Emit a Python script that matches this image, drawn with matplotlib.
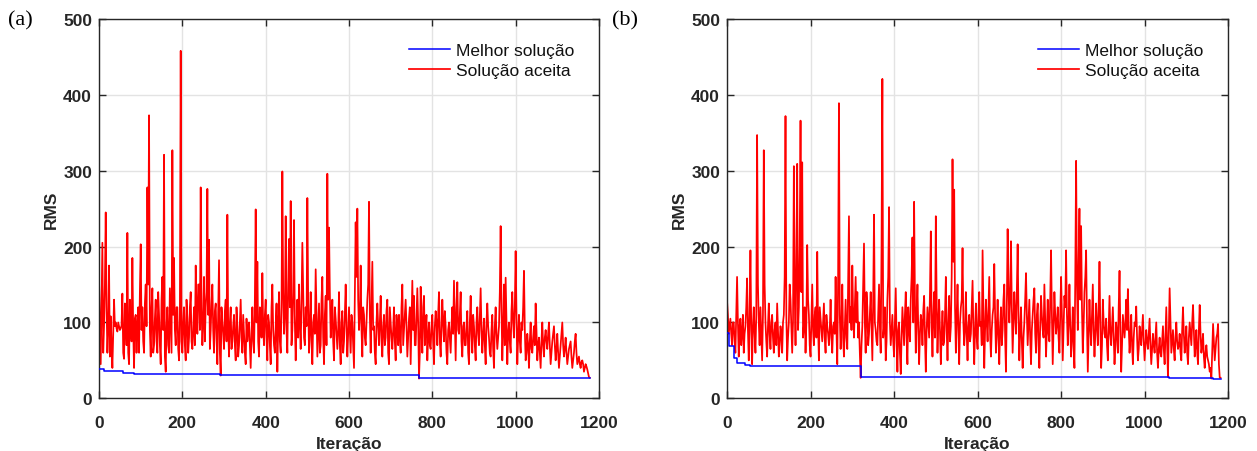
import numpy as np
import matplotlib
matplotlib.use('Agg')
from matplotlib import pyplot as plt

# RMS da solução aceita nas iterações 0, 4, 8, ...
a_aceita = [
    155, 45, 205, 95, 245, 60, 175, 108, 40, 130,
    100, 88, 95, 92, 138, 52, 110, 218, 45, 100,
    185, 40, 110, 95, 60, 203, 120, 60, 150, 278,
    373, 55, 145, 70, 130, 60, 110, 45, 160, 321,
    35, 120, 60, 100, 327, 185, 70, 120, 50, 458,
    60, 120, 50, 105, 80, 140, 65, 120, 175, 85,
    150, 278, 70, 160, 120, 276, 209, 90, 150, 60,
    125, 45, 182, 30, 100, 65, 130, 242, 55, 120,
    75, 110, 50, 95, 70, 130, 60, 85, 45, 75,
    100, 40, 120, 60, 249, 180, 55, 110, 165, 70,
    130, 50, 100, 45, 150, 70, 95, 35, 140, 60,
    299, 85, 240, 60, 210, 260, 90, 235, 50, 130,
    150, 65, 205, 80, 120, 264, 60, 140, 45, 110,
    170, 55, 125, 70, 160, 45, 135, 296, 225, 80,
    130, 50, 105, 65, 140, 45, 115, 75, 150, 55,
    120, 60, 100, 40, 232, 250, 90, 175, 55, 110,
    70, 130, 259, 60, 180, 95, 45, 125, 70, 135,
    55, 110, 80, 130, 45, 100, 65, 120, 50, 95,
    110, 60, 150, 90, 130, 55, 105, 45, 155, 135,
    70, 145, 26, 147, 60, 135, 95, 50, 100, 65,
    110, 45, 115, 70, 140, 55, 130, 75, 95, 45,
    100, 60, 120, 155, 50, 153, 85, 140, 55, 100,
    70, 115, 45, 135, 60, 95, 50, 120, 70, 145,
    60, 105, 45, 125, 80, 55, 110, 40, 120, 65,
    95, 227, 50, 150, 159, 45, 100, 60, 140, 80,
    194, 45, 110, 60, 90, 168, 50, 85, 40, 100,
    60, 95, 125, 50, 80, 40, 100, 55, 90, 65,
    100, 45, 75, 95, 50, 85, 40, 70, 100, 55,
    80, 45, 65, 75, 40, 60, 85, 45, 55, 40,
    50, 35, 45, 38, 28,
]
# RMS da solução aceita nas iterações 2, 6, 10, ...
a_aceita_meio = [
    100, 130, 60, 150, 120, 95, 55, 70, 85, 95,
    92, 100, 90, 96, 60, 125, 70, 60, 130, 75,
    90, 105, 60, 120, 140, 90, 75, 125, 95, 150,
    90, 120, 60, 105, 75, 140, 70, 130, 90, 55,
    95, 70, 145, 60, 110, 90, 120, 65, 105, 75,
    100, 70, 130, 60, 120, 75, 90, 70, 110, 150,
    90, 120, 100, 75, 140, 110, 65, 125, 90, 115,
    80, 110, 60, 120, 85, 115, 75, 90, 100, 65,
    95, 70, 120, 55, 100, 80, 110, 60, 105, 90,
    70, 85, 75, 130, 100, 75, 120, 80, 90, 110,
    80, 110, 70, 120, 90, 60, 125, 95, 75, 120,
    140, 110, 90, 150, 120, 70, 140, 100, 95, 80,
    100, 125, 140, 70, 95, 130, 90, 75, 100, 85,
    110, 90, 60, 130, 80, 110, 70, 130, 140, 100,
    75, 120, 85, 90, 70, 100, 60, 110, 95, 85,
    90, 110, 70, 140, 160, 130, 110, 90, 120, 80,
    100, 150, 110, 120, 90, 60, 100, 95, 100, 75,
    95, 70, 115, 60, 120, 80, 90, 75, 110, 70,
    80, 120, 70, 110, 95, 80, 120, 100, 90, 70,
    110, 100, 60, 90, 120, 70, 110, 80, 70, 95,
    75, 95, 100, 110, 75, 95, 100, 115, 60, 90,
    80, 95, 85, 100, 120, 90, 110, 75, 95, 70,
    95, 60, 100, 85, 110, 70, 100, 85, 110, 90,
    85, 70, 100, 95, 60, 90, 65, 95, 85, 80,
    140, 120, 90, 70, 100, 85, 75, 115, 100, 120,
    110, 80, 75, 100, 120, 90, 60, 70, 75, 65,
    80, 70, 90, 70, 60, 75, 70, 80, 75, 85,
    70, 60, 85, 70, 65, 60, 55, 85, 70, 65,
    60, 55, 70, 55, 50, 75, 60, 50, 45, 48,
    45, 40, 42, 33, 27,
]
b_aceita = [
    128, 85, 105, 70, 100, 60, 160, 55, 105, 85,
    60, 95, 158, 50, 195, 45, 120, 60, 347, 100,
    120, 50, 327, 100, 55, 125, 65, 110, 60, 100,
    125, 55, 95, 60, 110, 372, 50, 100, 130, 60,
    306, 70, 309, 120, 366, 311, 95, 60, 202, 110,
    55, 150, 70, 120, 193, 50, 105, 75, 125, 60,
    95, 70, 130, 60, 100, 160, 45, 389, 65, 150,
    55, 130, 65, 240, 120, 175, 80, 160, 140, 100,
    27, 95, 204, 60, 120, 85, 140, 50, 242, 90,
    70, 150, 60, 421, 95, 50, 130, 252, 70, 110,
    55, 145, 35, 100, 32, 120, 70, 140, 45, 95,
    130, 212, 259, 60, 150, 45, 110, 70, 135, 35,
    120, 80, 220, 55, 140, 240, 60, 130, 45, 115,
    75, 160, 50, 135, 95, 315, 275, 60, 150, 45,
    120, 198, 70, 140, 50, 110, 85, 155, 45, 125,
    65, 140, 100, 195, 40, 130, 75, 160, 55, 110,
    177, 60, 130, 45, 120, 90, 150, 35, 223, 100,
    207, 60, 140, 85, 203, 50, 120, 40, 100, 165,
    70, 130, 45, 110, 145, 60, 125, 40, 135, 90,
    150, 55, 130, 75, 195, 45, 140, 85, 120, 60,
    160, 50, 135, 195, 70, 150, 55, 120, 40, 313,
    90, 250, 227, 60, 140, 195, 35, 130, 70, 150,
    55, 125, 70, 180, 40, 130, 85, 105, 50, 135,
    70, 120, 45, 100, 60, 168, 35, 110, 80, 130,
    144, 60, 110, 45, 100, 121, 50, 95, 70, 110,
    50, 90, 65, 105, 45, 85, 60, 100, 40, 80,
    55, 95, 45, 120, 28, 145, 60, 90, 50, 100,
    65, 85, 50, 120, 60, 95, 45, 100, 70, 123,
    55, 90, 45, 123, 60, 85, 40, 70, 50, 35,
    26, 98, 50, 80, 98, 27,
]
b_aceita_meio = [
    110, 95, 85, 100, 75, 110, 100, 95, 70, 110,
    85, 120, 90, 110, 90, 95, 85, 110, 150, 70,
    85, 110, 150, 75, 95, 85, 100, 80, 90, 70,
    90, 70, 85, 100, 160, 110, 80, 150, 95, 100,
    140, 180, 90, 200, 140, 80, 120, 100, 130, 70,
    100, 90, 110, 80, 95, 120, 90, 100, 80, 110,
    85, 90, 80, 95, 85, 90, 160, 110, 100, 80,
    95, 80, 150, 100, 90, 110, 120, 100, 80, 60,
    70, 150, 100, 140, 70, 110, 95, 130, 100, 75,
    110, 95, 200, 80, 120, 75, 160, 100, 90, 75,
    100, 80, 90, 60, 80, 95, 110, 80, 120, 75,
    160, 100, 130, 110, 90, 85, 100, 115, 80, 90,
    100, 140, 95, 110, 80, 130, 100, 90, 85, 70,
    110, 90, 100, 75, 160, 180, 120, 110, 90, 100,
    130, 100, 90, 85, 95, 75, 120, 90, 90, 80,
    110, 95, 70, 120, 90, 100, 115, 85, 90, 120,
    110, 90, 80, 95, 70, 130, 80, 120, 150, 130,
    120, 100, 110, 140, 110, 90, 75, 80, 130, 110,
    100, 80, 90, 130, 85, 110, 70, 95, 110, 80,
    100, 90, 85, 130, 110, 90, 110, 100, 80, 110,
    110, 90, 120, 110, 100, 95, 80, 70, 160, 150,
    180, 130, 120, 95, 160, 100, 80, 95, 110, 90,
    85, 95, 120, 95, 70, 100, 80, 70, 90, 85,
    95, 80, 70, 85, 120, 85, 70, 95, 100, 90,
    95, 80, 70, 80, 95, 80, 65, 85, 90, 75,
    70, 75, 85, 70, 65, 70, 80, 60, 65, 60,
    75, 65, 85, 70, 90, 100, 75, 65, 80, 75,
    70, 60, 90, 85, 75, 60, 80, 85, 100, 90,
    70, 60, 90, 85, 70, 55, 60, 55, 45, 40,
    60, 75, 65, 85, 45, 27,
]

# Melhor solução: iterações onde muda e valor
a_melhor_it = [0, 13, 58, 85, 290, 768, 1178]
a_melhor = [38.5, 36, 33.3, 32, 30.7, 26.3, 26.3]
b_melhor_it = [0, 5, 17, 23, 43, 55, 320, 1058, 1163, 1182]
b_melhor = [86, 69, 53, 46, 44, 42, 27.5, 27, 26, 26]

cinza = '#262626'
fs = 12.5

plt.rcParams['font.family'] = ['Liberation Sans', 'DejaVu Sans']

fig = plt.figure(figsize=(12.57, 4.52), dpi=100)
posicoes = [[0.0788, 0.1166, 0.3977, 0.8392], [0.5784, 0.1166, 0.3986, 0.8392]]
dados = [(a_aceita, a_aceita_meio, a_melhor_it, a_melhor, '(a)', 0.006),
         (b_aceita, b_aceita_meio, b_melhor_it, b_melhor, '(b)', 0.487)]

for pos, (aceita, meio, m_it, melhor, letra, xl) in zip(posicoes, dados):
    ax = fig.add_axes(pos)
    y = np.column_stack([aceita, meio]).ravel()
    it = np.arange(len(y)) * 2
    ax.step(m_it, melhor, where='post', color='#0000ff', lw=1.1, label='Melhor solução', zorder=3)
    ax.plot(it, y, color='#ff0000', lw=1.25, label='Solução aceita', zorder=2)
    ax.set_xlim(0, 1200)
    ax.set_ylim(0, 500)
    ax.set_xticks([0, 200, 400, 600, 800, 1000, 1200])
    ax.set_yticks([0, 100, 200, 300, 400, 500])
    ax.grid(True, color='#e3e3e3', lw=1.0)
    ax.set_axisbelow(True)
    ax.tick_params(direction='in', top=True, right=True, length=5, width=1,
                   colors=cinza, labelsize=fs)
    ax.tick_params(axis='x', pad=12)
    ax.tick_params(axis='y', pad=5)
    for t in ax.get_xticklabels() + ax.get_yticklabels():
        t.set_fontweight('bold')
    for s in ax.spines.values():
        s.set_color(cinza)
        s.set_linewidth(1.0)
    ax.set_xlabel('Iteração', fontsize=fs, fontweight='bold', color=cinza, labelpad=4)
    ax.set_ylabel('RMS', fontsize=fs, fontweight='bold', color=cinza, labelpad=3)
    leg = ax.legend(loc='upper right', frameon=False, fontsize=fs, handlelength=2.4,
                    handletextpad=0.35, labelspacing=0.25, borderaxespad=1.0)
    for t in leg.get_texts():
        t.set_color('#111111')
    fig.text(xl, 0.953, letra, fontsize=16, family='Liberation Serif', va='center', ha='left')

fig.savefig('out.png', dpi=100)
